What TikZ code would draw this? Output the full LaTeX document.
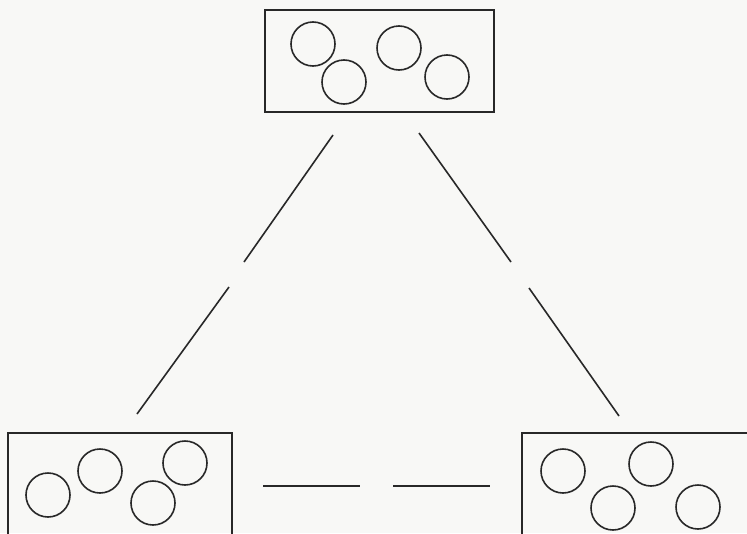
\documentclass[tikz,border=0pt]{standalone}
\usepackage{tikz}
\usetikzlibrary{positioning}
\definecolor{inkgray}{RGB}{40,40,40}
\definecolor{paper}{RGB}{248,248,246}
\tikzset{
    framebox/.style={rectangle, draw=inkgray, line width=2.2pt, inner sep=0pt, outer sep=0pt},
    ring/.style={circle, draw=inkgray, line width=1.6pt, minimum size=44pt, inner sep=0pt},
    link/.style={draw=inkgray, line width=1.6pt}
}
\begin{document}
\begin{tikzpicture}[x=1pt, y=-1pt]
    % Page
    \useasboundingbox (0,0) rectangle (747,533);
    \fill[paper] (0,0) rectangle (747,533);
    \clip (0,0) rectangle (747,533);

    % Top group
    \node[framebox, minimum width=229pt, minimum height=102pt] (topbox) at (379.5,61) {};
    \node[ring] (t1) at (313,44) {};
    \node[ring] (t2) at (344,82) {};
    \node[ring] (t3) at (399,48) {};
    \node[ring] (t4) at (447,77) {};

    % Left group
    \node[framebox, minimum width=224pt, minimum height=120pt] (leftbox) at (120,493) {};
    \node[ring] (l1) at (48,495) {};
    \node[ring] (l2) at (100,471) {};
    \node[ring] (l3) at (153,503) {};
    \node[ring] (l4) at (185,463) {};

    % Right group
    \node[framebox, minimum width=250pt, minimum height=120pt] (rightbox) at (647,493) {};
    \node[ring] (r1) at (563,471) {};
    \node[ring] (r2) at (613,508) {};
    \node[ring] (r3) at (651,464) {};
    \node[ring] (r4) at (698,507) {};

    % Links
    \coordinate (la) at (333,135); \coordinate (lb) at (244,262);
    \coordinate (lc) at (229,287); \coordinate (ld) at (137,414);
    \coordinate (ra) at (419,133); \coordinate (rb) at (511,262);
    \coordinate (rc) at (529,288); \coordinate (rd) at (619,416);
    \coordinate (ma) at (263,486); \coordinate (mb) at (360,486);
    \coordinate (mc) at (393,486); \coordinate (md) at (490,486);
    \draw[link] (la) -- (lb);
    \draw[link] (lc) -- (ld);
    \draw[link] (ra) -- (rb);
    \draw[link] (rc) -- (rd);
    \draw[link] (ma) -- (mb);
    \draw[link] (mc) -- (md);
\end{tikzpicture}
\end{document}
